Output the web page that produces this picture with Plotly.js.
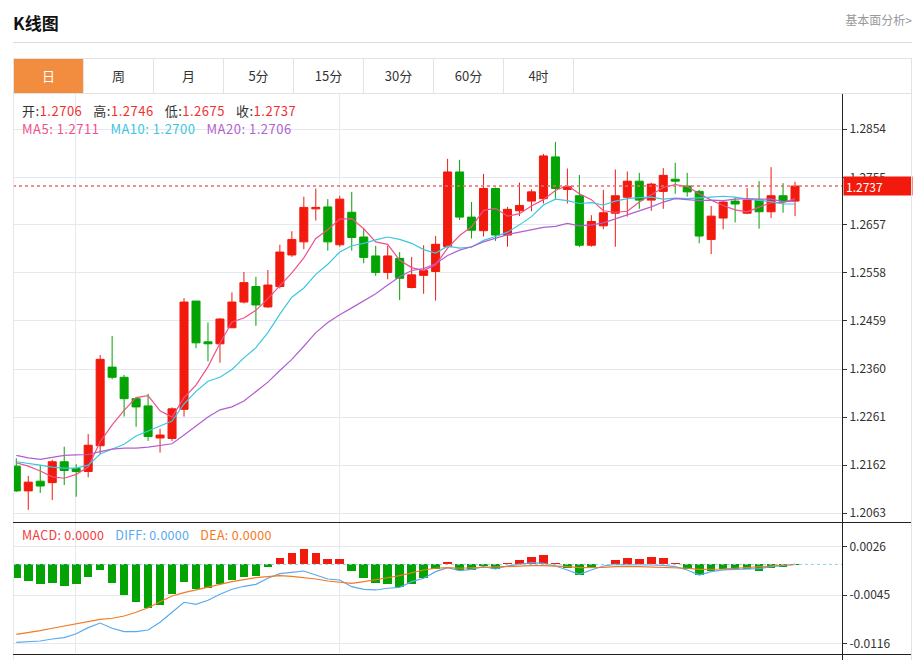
<!DOCTYPE html>
<html><head><meta charset="utf-8">
<script src="https://cdn.plot.ly/plotly-3.0.1.min.js"></script>
<style>
html,body{margin:0;padding:0;background:#fff;width:918px;height:660px;overflow:hidden;font-family:'Noto Sans CJK SC','Noto Sans',sans-serif;}
#chart{position:absolute;left:0;top:0;width:918px;height:660px;}
.abs{position:absolute;white-space:nowrap;z-index:5;}
#tabs{display:flex;}
#tabs div{width:69px;border-right:1px solid #e3e3e3;text-align:center;font-size:13px;line-height:34px;color:#333;}
#tabs div.on{background:#f28c3e;color:#fff;}
.gap{display:inline-block;width:11px;}
</style></head>
<body>
<div id="chart"></div>
<div class="abs" style="left:13px;top:11px;font-size:17px;font-weight:bold;color:#111;line-height:24px;">K线图</div>
<div class="abs" style="right:6px;top:12px;font-size:12px;color:#999;line-height:16px;">基本面分析&gt;</div>
<div class="abs" style="left:13px;top:42px;width:899px;height:1px;background:#dcdcdc;"></div>
<div id="tabs" class="abs" style="left:13px;top:58px;width:897px;height:34px;border:1px solid #e3e3e3;"></div>
<div class="abs" style="left:13px;top:94px;width:1px;height:566px;background:#e3e8ee;"></div>
<div class="abs" style="left:911px;top:58px;width:1px;height:602px;background:#e3e3e3;"></div>
<div class="abs" style="left:842px;top:94px;width:1px;height:566px;background:#222;"></div>
<div class="abs" style="left:13px;top:522px;width:898px;height:1px;background:#222;"></div>
<div class="abs" style="left:13px;top:654px;width:898px;height:1px;background:#222;"></div>
<div id="ohlc" class="abs" style="left:22px;top:103px;font-size:13px;line-height:15px;letter-spacing:0.5px;"></div>
<div id="malab" class="abs" style="left:22px;top:121px;font-size:13px;line-height:15px;letter-spacing:0.5px;"></div>
<div id="macdlab" class="abs" style="left:22px;top:527px;font-size:12.5px;line-height:15px;letter-spacing:0.3px;"></div>
<script>
// ---- data ----
const tabLabels = ['日','周','月','5分','15分','30分','60分','4时'];
const opens = [
1.2160,1.2109,1.2129,1.2126,1.2169,1.2155,1.2149,1.2202,1.2364,1.2343,
1.2299,1.2284,1.2218,1.2217,1.2277,1.2500,1.2416,1.2412,1.2445,1.2498,
1.2530,1.2488,1.2530,1.2595,1.2622,1.2690,1.2694,1.2616,1.2683,1.2632,
1.2593,1.2559,1.2588,1.2528,1.2553,1.2561,1.2612,1.2766,1.2673,1.2645,
1.2732,1.2636,1.2686,1.2706,1.2711,1.2797,1.2730,1.2717,1.2615,1.2655,
1.2681,1.2714,1.2747,1.2708,1.2726,1.2751,1.2737,1.2726,1.2627,1.2671,
1.2706,1.2681,1.2708,1.2684,1.2717,1.2706];
const highs = [
1.2176,1.2140,1.2162,1.2173,1.2200,1.2164,1.2226,1.2389,1.2428,1.2348,
1.2302,1.2309,1.2237,1.2281,1.2506,1.2500,1.2456,1.2465,1.2518,1.2560,
1.2550,1.2564,1.2616,1.2644,1.2715,1.2732,1.2710,1.2717,1.2725,1.2650,
1.2614,1.2614,1.2601,1.2591,1.2615,1.2634,1.2793,1.2791,1.2704,1.2762,
1.2734,1.2694,1.2744,1.2730,1.2803,1.2828,1.2773,1.2760,1.2677,1.2729,
1.2771,1.2767,1.2764,1.2744,1.2774,1.2785,1.2764,1.2729,1.2696,1.2708,
1.2714,1.2733,1.2747,1.2776,1.2743,1.2746];
const lows = [
1.2107,1.2070,1.2105,1.2090,1.2121,1.2097,1.2137,1.2185,1.2339,1.2262,
1.2241,1.2212,1.2188,1.2212,1.2262,1.2403,1.2376,1.2373,1.2445,1.2495,
1.2449,1.2486,1.2526,1.2591,1.2607,1.2666,1.2604,1.2612,1.2604,1.2578,
1.2552,1.2545,1.2502,1.2526,1.2515,1.2501,1.2612,1.2667,1.2629,1.2633,
1.2624,1.2612,1.2675,1.2685,1.2701,1.2711,1.2701,1.2611,1.2612,1.2648,
1.2612,1.2674,1.2690,1.2686,1.2690,1.2721,1.2715,1.2619,1.2597,1.2648,
1.2662,1.2679,1.2649,1.2671,1.2682,1.2675];
const closes = [
1.2109,1.2127,1.2119,1.2169,1.2151,1.2149,1.2203,1.2380,1.2343,1.2299,
1.2282,1.2221,1.2224,1.2278,1.2498,1.2414,1.2412,1.2463,1.2498,1.2538,
1.2492,1.2533,1.2601,1.2627,1.2693,1.2693,1.2622,1.2710,1.2631,1.2590,
1.2559,1.2593,1.2547,1.2554,1.2563,1.2617,1.2766,1.2673,1.2646,1.2732,
1.2636,1.2689,1.2697,1.2725,1.2799,1.2732,1.2736,1.2615,1.2664,1.2682,
1.2717,1.2747,1.2708,1.2741,1.2759,1.2747,1.2725,1.2634,1.2675,1.2704,
1.2700,1.2708,1.2684,1.2717,1.2706,1.2737];
const ma5 = [
1.2167,1.2160,1.2150,1.2138,1.2135,1.2143,1.2158,1.2210,1.2245,1.2275,
1.2301,1.2305,1.2274,1.2261,1.2301,1.2327,1.2365,1.2413,1.2457,1.2465,
1.2481,1.2505,1.2532,1.2558,1.2589,1.2629,1.2647,1.2669,1.2670,1.2649,
1.2622,1.2617,1.2584,1.2569,1.2563,1.2575,1.2609,1.2635,1.2653,1.2687,
1.2691,1.2675,1.2680,1.2696,1.2709,1.2728,1.2738,1.2721,1.2709,1.2686,
1.2683,1.2685,1.2704,1.2719,1.2734,1.2740,1.2736,1.2721,1.2708,1.2697,
1.2688,1.2684,1.2694,1.2703,1.2703,1.2711];
const ma10 = [
1.2169,1.2166,1.2162,1.2158,1.2156,1.2156,1.2162,1.2185,1.2195,1.2205,
1.2222,1.2232,1.2242,1.2253,1.2288,1.2314,1.2335,1.2343,1.2359,1.2383,
1.2404,1.2435,1.2473,1.2508,1.2527,1.2555,1.2576,1.2601,1.2614,1.2619,
1.2626,1.2632,1.2627,1.2619,1.2606,1.2599,1.2613,1.2609,1.2611,1.2625,
1.2633,1.2642,1.2657,1.2674,1.2698,1.2710,1.2707,1.2701,1.2703,1.2698,
1.2706,1.2711,1.2713,1.2714,1.2710,1.2712,1.2711,1.2712,1.2714,1.2716,
1.2714,1.2710,1.2708,1.2705,1.2700,1.2700];
const ma20 = [
1.2182,1.2177,1.2174,1.2178,1.2182,1.2183,1.2184,1.2190,1.2195,1.2197,
1.2197,1.2199,1.2202,1.2206,1.2224,1.2243,1.2261,1.2276,1.2282,1.2294,
1.2313,1.2333,1.2357,1.2380,1.2407,1.2435,1.2456,1.2472,1.2486,1.2501,
1.2515,1.2533,1.2550,1.2563,1.2567,1.2577,1.2594,1.2605,1.2612,1.2622,
1.2629,1.2637,1.2642,1.2647,1.2652,1.2654,1.2660,1.2655,1.2657,1.2661,
1.2669,1.2677,1.2685,1.2694,1.2704,1.2711,1.2709,1.2707,1.2708,1.2707,
1.2710,1.2711,1.2710,1.2710,1.2705,1.2706];
const macdHist = [
-0.00206,-0.00245,-0.00285,-0.00278,-0.00315,-0.00285,-0.00187,-0.00088,-0.00278,-0.00447,
-0.00559,-0.00647,-0.00598,-0.00441,-0.00256,-0.00368,-0.00353,-0.00285,-0.00226,-0.00187,
-0.00168,-0.00040,0.00088,0.00162,0.00221,0.00171,0.00078,0.00075,-0.00098,-0.00206,
-0.00270,-0.00285,-0.00330,-0.00290,-0.00204,-0.00072,0.00040,-0.00082,-0.00082,-0.00019,
-0.00072,0.00025,0.00065,0.00113,0.00138,0.00013,-0.00057,-0.00156,-0.00043,0.00005,
0.00065,0.00098,0.00075,0.00113,0.00094,0.00025,-0.00072,-0.00156,-0.00093,-0.00072,
-0.00072,-0.00072,-0.00093,-0.00049,-0.00034,-0.00008];
const diff = [
-0.01146,-0.01136,-0.01126,-0.01097,-0.01077,-0.01019,-0.00930,-0.00862,-0.00939,-0.00989,
-0.00989,-0.00964,-0.00851,-0.00704,-0.00557,-0.00587,-0.00528,-0.00440,-0.00366,-0.00322,
-0.00293,-0.00204,-0.00137,-0.00116,-0.00097,-0.00156,-0.00215,-0.00229,-0.00328,-0.00366,
-0.00376,-0.00351,-0.00337,-0.00254,-0.00204,-0.00107,-0.00049,-0.00093,-0.00072,-0.00034,
-0.00068,-0.00024,0.00006,0.00025,0.00016,-0.00024,-0.00082,-0.00146,-0.00082,-0.00024,
0.00000,0.00000,-0.00004,-0.00009,-0.00015,-0.00034,-0.00082,-0.00156,-0.00107,-0.00082,
-0.00072,-0.00068,-0.00063,-0.00034,-0.00019,0.00000];
const dea = [
-0.01028,-0.01004,-0.00975,-0.00939,-0.00906,-0.00866,-0.00832,-0.00807,-0.00792,-0.00759,
-0.00704,-0.00637,-0.00548,-0.00465,-0.00416,-0.00376,-0.00337,-0.00293,-0.00254,-0.00225,
-0.00196,-0.00181,-0.00166,-0.00175,-0.00190,-0.00215,-0.00244,-0.00263,-0.00278,-0.00254,
-0.00229,-0.00196,-0.00166,-0.00126,-0.00082,-0.00057,-0.00049,-0.00057,-0.00049,-0.00043,
-0.00043,-0.00034,-0.00024,-0.00019,-0.00019,-0.00024,-0.00034,-0.00049,-0.00049,-0.00043,
-0.00034,-0.00028,-0.00034,-0.00038,-0.00043,-0.00049,-0.00057,-0.00072,-0.00072,-0.00068,
-0.00057,-0.00049,-0.00038,-0.00024,-0.00013,0.00000];
const priceTicks = [1.2854,1.2755,1.2657,1.2558,1.2459,1.2360,1.2261,1.2162,1.2063];
const macdTicks = [0.0026,-0.0045,-0.0116];
const macdLabels = [['MACD','0.0000'],['DIFF','0.0000'],['DEA','0.0000']];

// ---- styles ----
const RED='#f11a0c', GREEN='#03a303';
const C_MA5='#f0508c', C_MA10='#3cc6e0', C_MA20='#b25fd0';
const C_DIFF='#5aaaf0', C_DEA='#f47a22';
const GRID='#e3e9ef';
const W=918,H=660;
const px=v=>v/W, py=v=>1-v/H;
const days = closes.map((_,i)=>i);
const L = closes.length-1;

// header widgets
document.getElementById('tabs').innerHTML = tabLabels.map((t,i)=>`<div class="${i===0?'on':''}">${t}</div>`).join('');
document.getElementById('ohlc').innerHTML = [['开',opens[L]],['高',highs[L]],['低',lows[L]],['收',closes[L]]]
  .map(([k,v])=>`<span style="color:#333">${k}:</span><span style="color:#f03030">${v.toFixed(4)}</span>`).join('<span class="gap"></span>');
document.getElementById('malab').innerHTML = [['MA5',ma5[L],C_MA5],['MA10',ma10[L],C_MA10],['MA20',ma20[L],C_MA20]]
  .map(([k,v,c])=>`<span style="color:${c}">${k}: ${v.toFixed(4)}</span>`).join('<span class="gap"></span>');
document.getElementById('macdlab').innerHTML = macdLabels
  .map(([k,v],i)=>`<span style="color:${['#f03c3c',C_DIFF,C_DEA][i]}">${k}: ${v}</span>`).join('<span class="gap"></span>');

const traces = [
  {type:'candlestick', x:days, open:opens, high:highs, low:lows, close:closes, xaxis:'x', yaxis:'y',
   increasing:{line:{color:RED,width:1}, fillcolor:RED},
   decreasing:{line:{color:GREEN,width:1}, fillcolor:GREEN}, whiskerwidth:0, hoverinfo:'skip'},
  {type:'scatter', mode:'lines', x:days, y:ma5, line:{color:C_MA5,width:1.2}, xaxis:'x', yaxis:'y'},
  {type:'scatter', mode:'lines', x:days, y:ma10, line:{color:C_MA10,width:1.2}, xaxis:'x', yaxis:'y'},
  {type:'scatter', mode:'lines', x:days, y:ma20, line:{color:C_MA20,width:1.2}, xaxis:'x', yaxis:'y'},
  {type:'bar', x:days, y:macdHist, width:0.72, marker:{color:macdHist.map(v=>v>=0?RED:GREEN), line:{width:0}}, xaxis:'x2', yaxis:'y2'},
  {type:'scatter', mode:'lines', x:days, y:diff, line:{color:C_DIFF,width:1.2}, xaxis:'x2', yaxis:'y2'},
  {type:'scatter', mode:'lines', x:days, y:dea, line:{color:C_DEA,width:1.2}, xaxis:'x2', yaxis:'y2'}
];
const xr=[-0.275,68.92];
const xbase = {domain:[px(13),px(842)], range:xr, showticklabels:false, tickvals:[4.93,26.96], ticks:'',
  showgrid:true, gridcolor:GRID, zeroline:false, showline:false, fixedrange:true};
const layout = {
  width:W, height:H, margin:{l:0,r:0,t:0,b:0}, paper_bgcolor:'rgba(0,0,0,0)', plot_bgcolor:'rgba(0,0,0,0)',
  showlegend:false, hovermode:false, boxgap:0.33, boxgroupgap:0, bargap:0,
  font:{family:"'Noto Sans CJK SC','Noto Sans',sans-serif", size:12, color:'#333'},
  xaxis:Object.assign({}, xbase, {anchor:'y', rangeslider:{visible:false}}),
  xaxis2:Object.assign({}, xbase, {anchor:'y2'}),
  yaxis:{domain:[py(522),py(94)], range:[1.20449,1.29266], side:'right', anchor:'x',
    tickvals:priceTicks, ticktext:priceTicks.map(v=>v.toFixed(4)), showgrid:true, gridcolor:GRID,
    zeroline:false, showline:false, ticks:'outside', ticklen:4, tickcolor:'#333', tickfont:{size:12,color:'#333'}, fixedrange:true},
  yaxis2:{domain:[py(653.3),py(523.3)], range:[-0.01307,0.00604], side:'right', anchor:'x2',
    tickvals:macdTicks, ticktext:macdTicks.map(v=>v.toFixed(4)), showgrid:true, gridcolor:GRID,
    zeroline:false, showline:false, ticks:'outside', ticklen:4, tickcolor:'#333', tickfont:{size:12,color:'#333'}, fixedrange:true},
  shapes:[
    {type:'line', xref:'paper', x0:px(13), x1:px(842), yref:'y2', y0:0, y1:0, line:{color:'#8ccbf0', width:1, dash:'3px,3px'}},
    {type:'line', xref:'paper', x0:px(13), x1:px(842), yref:'y', y0:closes[L], y1:closes[L], line:{color:'#f06a6a', width:1.5, dash:'dot'}}
  ],
  annotations:[
    {xref:'paper', x:px(843), xanchor:'left', yref:'y', y:closes[L], yanchor:'middle', text:closes[L].toFixed(4),
     showarrow:false, font:{color:'#fff', size:12}, bgcolor:RED, width:64, height:14, borderpad:2, align:'left'}
  ]
};
Plotly.newPlot('chart', traces, layout, {staticPlot:true, displayModeBar:false});
</script>
</body></html>
